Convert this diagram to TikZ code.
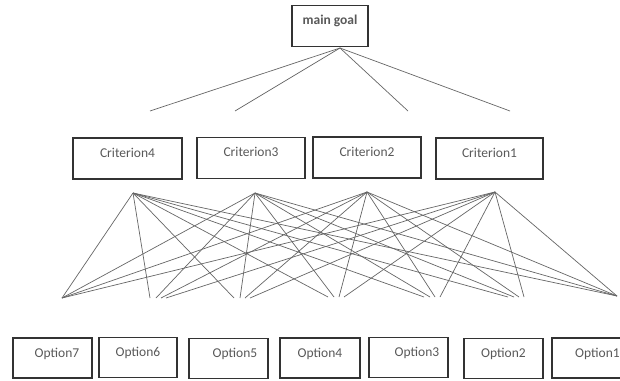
\documentclass[tikz,border=0pt]{standalone}
\usepackage{fontspec}
\setmainfont{Carlito}
\begin{document}
\begin{tikzpicture}[x=1pt,y=-1pt,
  box/.style={draw=black!80, line width=1.5pt, fill=white, inner sep=0pt,
    minimum height=41pt, text=black!65, font=\fontsize{13.5pt}{16pt}\selectfont,
    text height=19pt, text depth=22pt},
  optbox/.style={box, minimum height=40pt, text depth=21pt},
  link/.style={draw=black!60, line width=0.7pt}]
\clip (0,0) rectangle (620,380);
\fill[white] (0,0) rectangle (620,380);

% goal
\node[box, minimum width=76pt, font=\bfseries\fontsize{13.5pt}{16pt}\selectfont] (goal) at (330,26) {main goal};
\coordinate (gs) at (340,48);
\coordinate (t4) at (150,111);
\coordinate (t3) at (235,111);
\coordinate (t2) at (408,111);
\coordinate (t1) at (510,111);
\foreach \t in {t4,t3,t2,t1} \draw[link] (gs) -- (\t);

% criteria
\node[box, minimum width=109pt] (c4) at (127.5,158.5) {Criterion4};
\node[box, minimum width=108pt] (c3) at (251,158) {Criterion3};
\node[box, minimum width=108pt] (c2) at (367,157.5) {Criterion2};
\node[box, minimum width=107pt] (c1) at (489.5,158.5) {Criterion1};

\coordinate (a4) at (133,193);
\coordinate (a3) at (255,193);
\coordinate (a2) at (367,192);
\coordinate (a1) at (495,192);

% option end points
\coordinate (e7) at (62,298);
\coordinate (e6) at (156,298);
\coordinate (e5) at (240,298);
\coordinate (e4) at (334,297);
\coordinate (e3) at (430,297);
\coordinate (e2) at (514,297);
\coordinate (e1) at (617,296);

% every criterion meets every option; inner ends fan out a little
\foreach \a/\d in {a4/-6,a3/0,a2/5,a1/10} {
  \draw[link] (\a) -- (e7);
  \draw[link] (\a) -- (e1);
  \foreach \e in {e6,e5,e4,e3,e2}
    \draw[link] (\a) -- ([xshift=\d pt]\e);
}

% options
\node[optbox, minimum width=79pt] (o7) at (52.5,358) {\hspace*{9pt}Option7};
\node[optbox, minimum width=78pt] (o6) at (138,357.5) {Option6};
\node[optbox, minimum width=79pt] (o5) at (228.5,358.5) {\hspace*{13pt}Option5};
\node[optbox, minimum width=80pt] (o4) at (320,358) {Option4};
\node[optbox, minimum width=79pt] (o3) at (408.5,357.5) {\hspace*{17pt}Option3};
\node[optbox, minimum width=79pt] (o2) at (503.5,358.5) {Option2};
\node[optbox, minimum width=79pt] (o1) at (591.5,358) {\hspace*{12pt}Option1};
\end{tikzpicture}
\end{document}
